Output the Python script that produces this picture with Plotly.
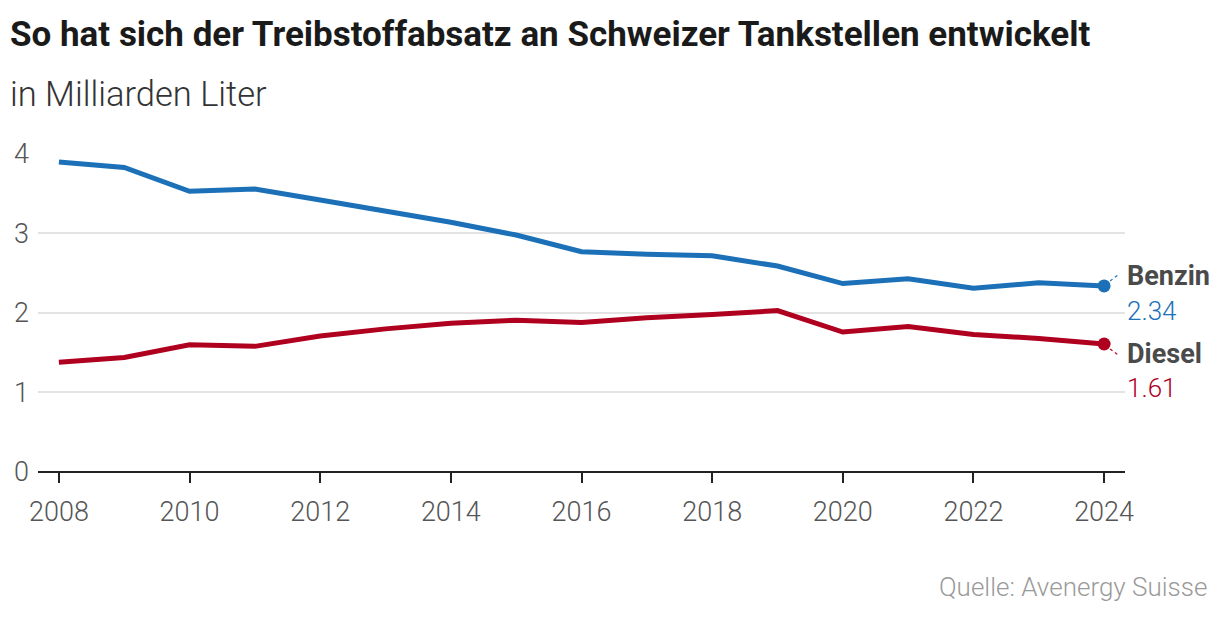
import plotly.graph_objects as go

years = list(range(2008, 2025))
benzin = [3.90, 3.83, 3.53, 3.56, 3.42, 3.28, 3.14, 2.98, 2.77, 2.74, 2.72, 2.59, 2.37, 2.43, 2.31, 2.38, 2.34]
diesel = [1.38, 1.44, 1.60, 1.58, 1.71, 1.80, 1.87, 1.91, 1.88, 1.94, 1.98, 2.03, 1.76, 1.83, 1.73, 1.68, 1.61]
series_names = ["Benzin", "Diesel"]
colors = ["#1b70b7", "#b0001f"]
title = "So hat sich der Treibstoffabsatz an Schweizer Tankstellen entwickelt"
subtitle = "in Milliarden Liter"
source = "Quelle: Avenergy Suisse"
xticks = list(range(2008, 2025, 2))
yticks = [0, 1, 2, 3, 4]

FONT = "Roboto"
fig = go.Figure()
for name, vals, col in zip(series_names, [benzin, diesel], colors):
    fig.add_trace(go.Scatter(x=years, y=vals, mode="lines", name=name,
                             line=dict(color=col, width=5), showlegend=False))
    fig.add_trace(go.Scatter(x=[years[-1]], y=[vals[-1]], mode="markers",
                             marker=dict(color=col, size=13), showlegend=False,
                             cliponaxis=False))

# end labels: (name shift, value shift, connector direction)
label_pos = [(10, -25, 1), (-10, -44, -1)]
for name, vals, col, (ns, vs, sy) in zip(series_names, [benzin, diesel], colors, label_pos):
    fig.add_annotation(x=years[-1], y=vals[-1], xref="x", yref="y",
                       text="<b>" + name + "</b>", showarrow=False,
                       xanchor="left", yanchor="middle", xshift=21, yshift=ns,
                       font=dict(family=FONT, size=27, color="#4a4a4a"))
    fig.add_annotation(x=years[-1], y=vals[-1], xref="x", yref="y",
                       text=f"{vals[-1]:.2f}", showarrow=False,
                       xanchor="left", yanchor="middle", xshift=21, yshift=vs,
                       font=dict(family=FONT, size=26, color=col, weight=300))
    fig.add_shape(type="line", xref="x", yref="y", xsizemode="pixel", ysizemode="pixel",
                  xanchor=years[-1], yanchor=vals[-1],
                  x0=6, x1=14, y0=5 * sy, y1=11 * sy,
                  line=dict(color=col, width=1.2, dash="dot"))

fig.add_annotation(x=0, y=1, xref="paper", yref="paper", xanchor="left", yanchor="middle",
                   text="<b>" + title + "</b>", showarrow=False,
                   font=dict(family=FONT, size=35, color="#1a1a1a"),
                   xshift=-30, yshift=119)
fig.add_annotation(x=0, y=1, xref="paper", yref="paper", xanchor="left", yanchor="middle",
                   text=subtitle, showarrow=False,
                   font=dict(family=FONT, size=34.5, color="#333333", weight=300),
                   xshift=-30, yshift=59)
fig.add_annotation(x=1, y=0, xref="paper", yref="paper", xanchor="right", yanchor="middle",
                   text=source, showarrow=False,
                   font=dict(family=FONT, size=26, color="#9a9a9a", weight=300),
                   xshift=84, yshift=-115)

fig.update_layout(
    width=1212, height=610,
    margin=dict(l=30, r=95, t=145, b=146),
    paper_bgcolor="white", plot_bgcolor="white",
    font=dict(family=FONT),
    xaxis=dict(range=[2007.68, 2024.32], tickvals=xticks, ticktext=[str(t) for t in xticks],
               showgrid=False, zeroline=False, showline=False, automargin=False,
               ticks="outside", ticklen=10, tickwidth=2, tickcolor="#222",
               ticklabelstandoff=6,
               tickfont=dict(family=FONT, size=27, color="#555555", weight=300),
               fixedrange=True),
    yaxis=dict(range=[0, 4.012], tickvals=yticks, ticktext=[str(t) for t in yticks],
               showgrid=True, gridcolor="#e3e3e3", gridwidth=1.5,
               zeroline=True, zerolinecolor="#222", zerolinewidth=2,
               showline=False, ticks="", ticklabelstandoff=8, automargin=False,
               tickfont=dict(family=FONT, size=27, color="#555555", weight=300),
               fixedrange=True),
)
fig.write_html("out.html")
